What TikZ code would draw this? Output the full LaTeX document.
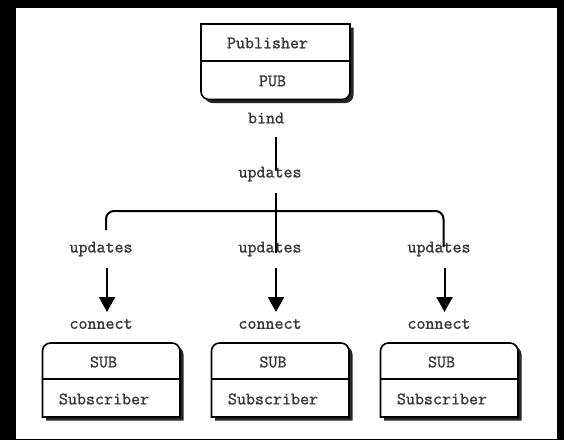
\documentclass[tikz,border=0pt]{standalone}
\usepackage{fontspec}
\newfontfamily\lbfont{Latin Modern Mono}[FakeBold=1.2]
\usetikzlibrary{arrows.meta}
\begin{document}
\begin{tikzpicture}[x=1pt,y=-1pt,
  lbl/.style={font=\lbfont\fontsize{17.5}{17.5}\selectfont, text=black!78, inner sep=0pt},
  boxline/.style={line width=1.6pt, draw=black, fill=white},
  shadowfill/.style={fill=black!85},
  conn/.style={line width=2pt, draw=black},
  arr/.style={conn, -{Triangle[width=16pt,length=15pt]}}]
\fill[black] (0,0) rectangle (564,440);
\fill[white] (15.5,7.5) rectangle (557,439);
\useasboundingbox (0,0) rectangle (564,440);
% Publisher box (square top, rounded bottom)
\def\pubpath{(201,24) -- (350,24) -- (350,91.5) arc[start angle=0,end angle=90,radius=8] -- (209,99.5) arc[start angle=90,end angle=180,radius=8] -- cycle}
\fill[shadowfill, shift={(3.5,3.5)}] \pubpath;
\path[boxline] \pubpath;
\draw[line width=1.6pt] (201,61) -- (350,61);
\node[lbl] (pubname) at (267.5,43) {Publisher};
\node[lbl] (pubid) at (272.5,81) {PUB};
\node[lbl] (bind) at (266,118) {bind};
\node[lbl] (upd0) at (270,174) {updates};
% subscriber boxes (rounded top, square bottom)
\foreach \x/\n in {42.5/1,211.5/2,380.5/3}{
  \def\subpath{(\x,417) -- (\x,351) arc[start angle=180,end angle=270,radius=8] -- ({\x+129.5},343) arc[start angle=270,end angle=360,radius=8] -- ({\x+137.5},417) -- cycle}
  \fill[shadowfill, shift={(3.5,3.5)}] \subpath;
  \path[boxline] \subpath;
  \draw[line width=1.6pt] (\x,379) -- ({\x+137.5},379);
}
\node[lbl] (sub1) at (103.5,362) {SUB};
\node[lbl] (sub2) at (273,362) {SUB};
\node[lbl] (sub3) at (441.5,362) {SUB};
\node[lbl] (subn1) at (104,399) {Subscriber};
\node[lbl] (subn2) at (273,399) {Subscriber};
\node[lbl] (subn3) at (442,399) {Subscriber};
\node[lbl] (upd1) at (101,249) {updates};
\node[lbl] (upd2) at (270,249) {updates};
\node[lbl] (upd3) at (439,249) {updates};
\node[lbl] (con1) at (101,324) {connect};
\node[lbl] (con2) at (270,324) {connect};
\node[lbl] (con3) at (439,324) {connect};
% connectors
\coordinate (b1) at (276,137);
\coordinate (b2) at (276,170);
\draw[conn] (b1) -- (b2);
\coordinate (t1) at (276,193);
\coordinate (t2) at (276,253);
\draw[conn] (t1) -- (t2);
\coordinate (hl) at (106,230);
\coordinate (htop) at (276,211);
\coordinate (hr) at (443.5,247);
\draw[conn, rounded corners=8pt] (hl) |- (htop) -| (hr);
\coordinate (a1s) at (107,268); \coordinate (a1e) at (107,312);
\coordinate (a2s) at (276,268); \coordinate (a2e) at (276,312);
\coordinate (a3s) at (444.5,268); \coordinate (a3e) at (444.5,312);
\draw[arr] (a1s) -- (a1e);
\draw[arr] (a2s) -- (a2e);
\draw[arr] (a3s) -- (a3e);
\end{tikzpicture}
\end{document}
